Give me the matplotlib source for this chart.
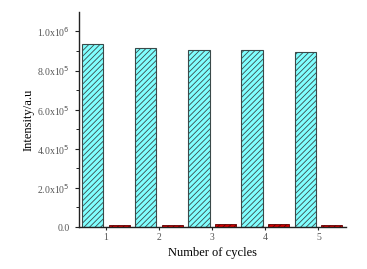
import numpy as np
import matplotlib.pyplot as plt

plt.rcParams['font.family'] = ['Liberation Serif', 'DejaVu Serif']
plt.rcParams['hatch.linewidth'] = 0.6

# Data
cycles = [1, 2, 3, 4, 5]
cyan_vals = [0.937e6, 0.915e6, 0.906e6, 0.903e6, 0.896e6]
red_vals = [1.0e4, 1.1e4, 1.3e4, 1.7e4, 0.9e4]

yticks = [0, 2e5, 4e5, 6e5, 8e5, 1e6]
ytick_labels = ['0.0', '2.0x10$^5$', '4.0x10$^5$', '6.0x10$^5$',
                '8.0x10$^5$', '1.0x10$^6$']

fig = plt.figure(figsize=(3.67, 2.69), dpi=100)
ax = fig.add_axes([0.215, 0.156, 0.728, 0.8])

x = np.array(cycles)
w = 0.4
plt.rcParams['hatch.color'] = '#2a7f7f'
ax.bar(x - 0.25, cyan_vals, width=w, color='#80ffff', edgecolor='#3a4a4a',
       linewidth=0.8, hatch='//////')
ax.bar(x + 0.25, red_vals, width=w, color='#d00000', edgecolor='#600000',
       linewidth=0.6, hatch='//////')

ax.set_xlim(0.49, 5.52)
ax.set_ylim(0, 1.1e6)
ax.set_xticks(cycles)
ax.set_xticklabels([str(c) for c in cycles])
ax.set_yticks(yticks)
ax.set_yticklabels(ytick_labels)
ax.set_yticks(np.arange(1e5, 1.1e6, 2e5), minor=True)

for s in ['top', 'right']:
    ax.spines[s].set_visible(False)
for s in ['left', 'bottom']:
    ax.spines[s].set_linewidth(1.0)
    ax.spines[s].set_color('#222222')

ax.tick_params(axis='both', direction='out', labelsize=7, labelcolor='#555555',
               color='#222222', length=3, width=0.8)
ax.tick_params(axis='y', which='minor', length=2, width=0.6)
ax.tick_params(axis='x', length=2, pad=2)

ax.set_xlabel('Number of cycles', fontsize=9, labelpad=4)
ax.set_ylabel('Intensity/a.u', fontsize=9, labelpad=2)

fig.savefig('out.png', dpi=100)
